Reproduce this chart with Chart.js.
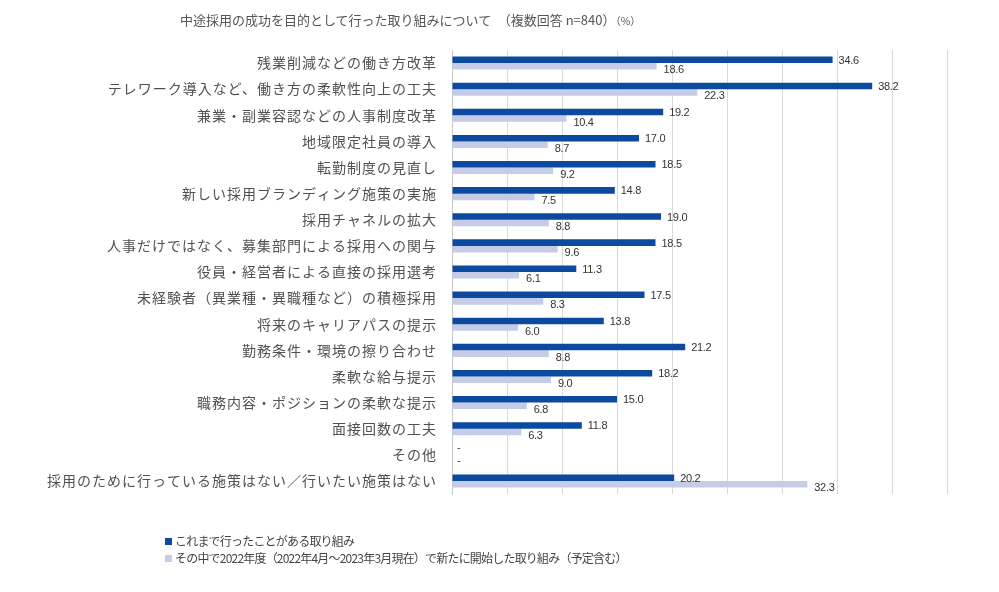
<!DOCTYPE html>
<html lang="ja">
<head>
<meta charset="utf-8">
<script src="https://cdn.jsdelivr.net/npm/chart.js@4"></script>
<style>
  html, body { margin: 0; padding: 0; background: #fff; }
  #wrap { position: relative; width: 999px; height: 592px; font-family: "Noto Sans CJK JP", "Noto Sans", sans-serif; color: #555; }
  #chart { position: absolute; left: 0; top: 0; }
  #title { position: absolute; left: 180px; top: 10px; font-size: 13px; white-space: nowrap; }
  #title small { font-size: 10.5px; }
  .leg { position: absolute; left: 165px; font-size: 12px; letter-spacing: -0.8px; white-space: nowrap; color: #444; }
  .leg i { display: inline-block; width: 7px; height: 7px; margin-right: 3px; vertical-align: 1px; }
</style>
</head>
<body>
<div id="wrap">
  <canvas id="chart" width="999" height="592"></canvas>
  <div id="title">中途採用の成功を目的として行った取り組みについて　（複数回答 n=840）<small>（%）</small></div>
  <div class="leg" style="top:532px"><i style="background:#0B4A9F"></i>これまで行ったことがある取り組み</div>
  <div class="leg" style="top:549px"><i style="background:#C5CCE8"></i>その中で2022年度（2022年4月～2023年3月現在）で新たに開始した取り組み（予定含む）</div>
</div>
<script>
// ------------------ DATA ------------------
const categories = [
  "残業削減などの働き方改革",
  "テレワーク導入など、働き方の柔軟性向上の工夫",
  "兼業・副業容認などの人事制度改革",
  "地域限定社員の導入",
  "転勤制度の見直し",
  "新しい採用ブランディング施策の実施",
  "採用チャネルの拡大",
  "人事だけではなく、募集部門による採用への関与",
  "役員・経営者による直接の採用選考",
  "未経験者（異業種・異職種など）の積極採用",
  "将来のキャリアパスの提示",
  "勤務条件・環境の擦り合わせ",
  "柔軟な給与提示",
  "職務内容・ポジションの柔軟な提示",
  "面接回数の工夫",
  "その他",
  "採用のために行っている施策はない／行いたい施策はない"
];
const pastValues = [34.6, 38.2, 19.2, 17.0, 18.5, 14.8, 19.0, 18.5, 11.3, 17.5, 13.8, 21.2, 18.2, 15.0, 11.8, null, 20.2];
const newValues  = [18.6, 22.3, 10.4, 8.7, 9.2, 7.5, 8.8, 9.6, 6.1, 8.3, 6.0, 8.8, 9.0, 6.8, 6.3, null, 32.3];
const seriesNames = ["これまで行ったことがある取り組み", "その中で2022年度（2022年4月～2023年3月現在）で新たに開始した取り組み（予定含む）"];
const axisMax = 45;
const axisStep = 5;

const DARK = "#0B4A9F";
const LIGHT = "#C5CCE8";

// ------------------ PLUGINS ------------------
// letter spacing for the category labels only
const spacingPlugin = {
  id: "spacing",
  beforeDraw(chart) { chart.ctx.letterSpacing = "1px"; },
  beforeDatasetsDraw(chart) { chart.ctx.letterSpacing = "0px"; }
};

// value labels next to bar ends, "-" for missing values
const valueLabels = {
  id: "valueLabels",
  afterDatasetsDraw(chart) {
    const ctx = chart.ctx;
    const yScale = chart.scales.y;
    ctx.save();
    ctx.letterSpacing = "-0.3px";
    ctx.font = "11px 'Liberation Sans', Arial, sans-serif";
    ctx.fillStyle = "#333";
    ctx.textBaseline = "middle";
    ctx.textAlign = "left";
    chart.data.datasets.forEach((ds, di) => {
      const meta = chart.getDatasetMeta(di);
      meta.data.forEach((bar, i) => {
        const v = ds.data[i];
        const half = yScale.height / categories.length * 0.25;
        const cy = yScale.getPixelForValue(i) + (di === 0 ? -half : half);
        if (v === null) {
          ctx.fillText("-", chart.chartArea.left + 5, cy);
          return;
        }
        if (di === 0) ctx.fillText(v.toFixed(1), bar.x + 6, bar.y + 1);
        else ctx.fillText(v.toFixed(1), bar.x + 7, bar.y + 4);
      });
    });
    ctx.restore();
  }
};

// ------------------ CHART ------------------
new Chart(document.getElementById("chart"), {
  type: "bar",
  data: {
    labels: categories,
    datasets: [
      { label: seriesNames[0], data: pastValues, backgroundColor: DARK },
      { label: seriesNames[1], data: newValues, backgroundColor: LIGHT }
    ]
  },
  options: {
    indexAxis: "y",
    responsive: false,
    animation: false,
    categoryPercentage: 0.5,
    barPercentage: 1.0,
    layout: { padding: { left: 0, right: 52, top: 50, bottom: 98 } },
    plugins: {
      legend: { display: false },
      title: { display: false },
      tooltip: { enabled: false }
    },
    scales: {
      x: {
        min: 0,
        max: axisMax,
        ticks: { display: false, stepSize: axisStep },
        grid: { color: "#D9D9D9", drawTicks: false },
        border: { display: false },
        afterFit: (s) => { s.height = 0; }
      },
      y: {
        ticks: {
          color: "#505050",
          padding: 15,
          font: { family: "'Noto Sans CJK JP', sans-serif", size: 14 }
        },
        grid: { display: false, drawTicks: false },
        border: { color: "#C8C8C8" },
        afterFit: (s) => { s.width = 452; }
      }
    }
  },
  plugins: [spacingPlugin, valueLabels]
});
</script>
</body>
</html>
